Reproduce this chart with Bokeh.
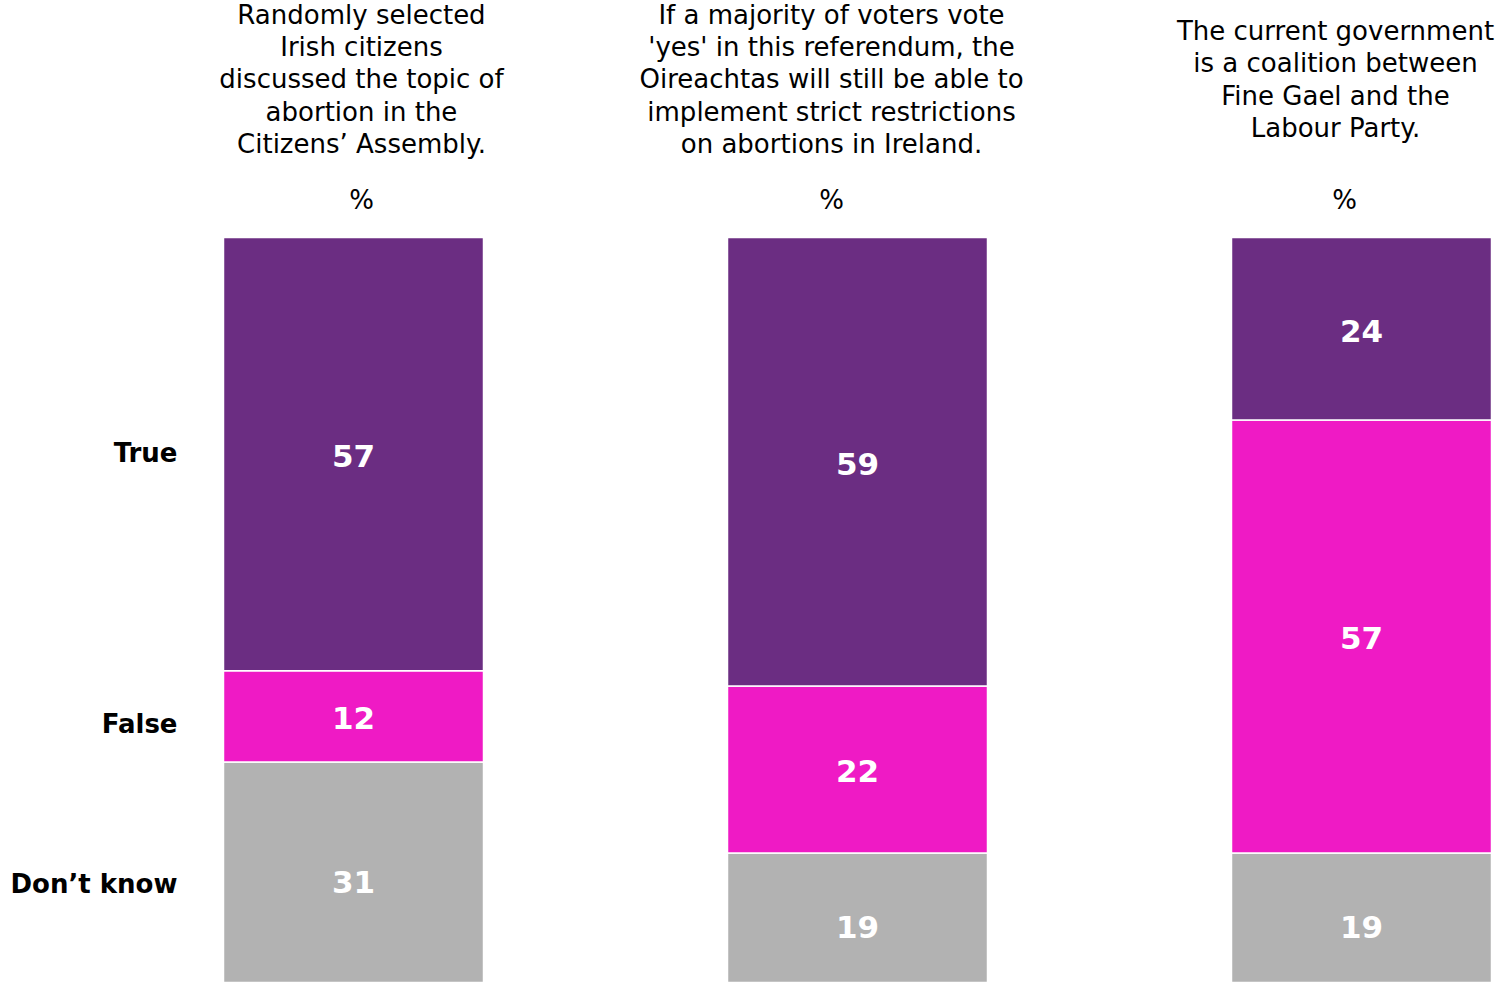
from bokeh.plotting import figure
from bokeh.models import ColumnDataSource, Range1d
from bokeh.embed import file_html
from bokeh.resources import INLINE
from bokeh.core.properties import value

# ---- data ----
questions = [
    "Randomly selected\nIrish citizens\ndiscussed the topic of\nabortion in the\nCitizens\u2019 Assembly.",
    "If a majority of voters vote\n'yes' in this referendum, the\nOireachtas will still be able to\nimplement strict restrictions\non abortions in Ireland.",
    "The current government\nis a coalition between\nFine Gael and the\nLabour Party.",
]
answers = ["True", "False", "Don\u2019t know"]
true_vals = [57, 59, 24]
false_vals = [12, 22, 57]
dk_vals = [31, 19, 19]
colors = ["#6B2D82", "#EF1AC5", "#B2B2B2"]  # True, False, Don't know

FONT = "DejaVu Sans"

xs = list(range(len(questions)))
src = ColumnDataSource(dict(x=xs, dk=dk_vals, false=false_vals, true=true_vals))

p = figure(width=1495, height=982, output_backend="svg", toolbar_location=None,
           x_range=Range1d(-0.70040, 2.26587), y_range=Range1d(1.974, 131.18),
           min_border=0, min_border_left=0, min_border_right=0,
           min_border_top=0, min_border_bottom=0)
p.xaxis.visible = False
p.yaxis.visible = False
p.grid.visible = False
p.outline_line_color = None
p.background_fill_color = "white"

bar_w = 0.5159
p.vbar_stack(["dk", "false", "true"], x="x", width=bar_w, source=src,
             color=[colors[2], colors[1], colors[0]],
             line_color="white", line_width=1.5)

# value labels at segment centres
lx, ly, lt = [], [], []
for i in xs:
    b = 0
    for v in (dk_vals[i], false_vals[i], true_vals[i]):
        lx.append(i)
        ly.append(b + v / 2)
        lt.append(str(v))
        b += v
p.text(x=lx, y=ly, text=lt, text_color="white", text_font=value(FONT),
       text_font_style="bold", text_font_size="31px", text_align="center",
       text_baseline="middle", y_offset=2)

# question titles above bars
top = [dk_vals[i] + false_vals[i] + true_vals[i] for i in xs]
tsrc = ColumnDataSource(dict(x=xs, y=top, text=questions, xo=[8, -26, -26]))
p.text(x="x", y="y", text="text", x_offset="xo", y_offset=-158, source=tsrc,
       text_color="black", text_font=value(FONT), text_font_size="26px",
       text_align="center", text_baseline="middle", text_line_height=1.07)
psrc = ColumnDataSource(dict(x=xs, y=top, text=["%"] * 3, xo=[8, -26, -17]))
p.text(x="x", y="y", text="text", x_offset="xo", y_offset=-37, source=psrc,
       text_color="black", text_font=value(FONT), text_font_size="26px",
       text_align="center", text_baseline="middle")

# row labels next to first bar
rl_y = [dk_vals[0] + false_vals[0] + true_vals[0] / 2,
        dk_vals[0] + false_vals[0] / 2,
        dk_vals[0] / 2]
p.text(x=[0 - bar_w / 2] * 3, y=rl_y, text=answers, x_offset=-46,
       y_offset=[-1, 8, 4], text_color="black", text_font=value(FONT),
       text_font_style="bold", text_font_size="26px", text_align="right",
       text_baseline="middle")

open("out.html", "w").write(file_html(p, INLINE))
